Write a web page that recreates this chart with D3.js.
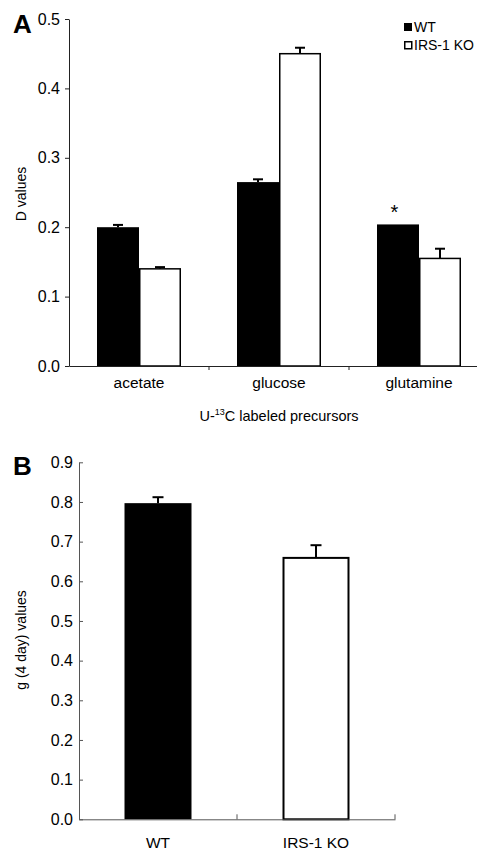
<!DOCTYPE html>
<html>
<head>
<meta charset="utf-8">
<script src="https://cdn.jsdelivr.net/npm/d3@7"></script>
<style>
  html, body { margin: 0; padding: 0; background: #fff; }
  svg { display: block; font-family: "Liberation Sans", Arial, sans-serif; }
</style>
</head>
<body>
<svg id="chart" width="477" height="850"></svg>
<script>
// ---- Panel A data ----
const categoriesA = ["acetate", "glucose", "glutamine"];
const seriesA = ["WT", "IRS-1 KO"];
const wtValuesA = [0.200, 0.265, 0.204];
const koValuesA = [0.140, 0.450, 0.155];
const wtErrA = [0.0033, 0.004, 0];
const koErrA = [0.0025, 0.0086, 0.014];
const yTicksA = [0.0, 0.1, 0.2, 0.3, 0.4, 0.5];
const starsA = [{ category: "glutamine", series: "WT", label: "*" }];

// ---- Panel B data ----
const groupsB = ["WT", "IRS-1 KO"];
const valuesB = [0.797, 0.659];
const errB = [0.015, 0.032];
const yTicksB = [0.0, 0.1, 0.2, 0.3, 0.4, 0.5, 0.6, 0.7, 0.8, 0.9];

const svg = d3.select("#chart");
const fmt = d3.format(".1f");
const FONT = "Liberation Sans, Arial, sans-serif";

// ================= Panel A =================
const A = { left: 69, right: 489, top: 19, bottom: 366 };
const xA = d3.scaleBand().domain(categoriesA).range([A.left, A.right]).padding(0);
const xSubA = d3.scaleBand().domain(seriesA).range([0, xA.bandwidth()]).paddingInner(0).paddingOuter(2 / 3);
const yA = d3.scaleLinear().domain([0, 0.5]).range([A.bottom, A.top]);

const rowsA = categoriesA.map((c, i) => ({
  category: c,
  bars: [
    { series: "WT", value: wtValuesA[i], err: wtErrA[i] },
    { series: "IRS-1 KO", value: koValuesA[i], err: koErrA[i] }
  ]
}));

const gA = svg.append("g");

const groupA = gA.selectAll("g.cat").data(rowsA).join("g")
  .attr("class", "cat")
  .attr("transform", d => `translate(${xA(d.category)},0)`);

groupA.selectAll("g.err").data(d => d.bars.filter(b => b.err > 0)).join("g")
  .attr("class", "err")
  .each(function (b) {
    const cx = xSubA(b.series) + xSubA.bandwidth() / 2;
    const g = d3.select(this);
    g.append("line")
      .attr("x1", cx).attr("x2", cx)
      .attr("y1", yA(b.value)).attr("y2", yA(b.value + b.err))
      .attr("stroke", "#000").attr("stroke-width", 2);
    g.append("line")
      .attr("x1", cx - 5).attr("x2", cx + 5)
      .attr("y1", yA(b.value + b.err)).attr("y2", yA(b.value + b.err))
      .attr("stroke", "#000").attr("stroke-width", 2);
  });

groupA.selectAll("rect").data(d => d.bars).join("rect")
  .attr("x", b => xSubA(b.series) + (b.series === "WT" ? 0 : 0.75))
  .attr("y", b => yA(b.value))
  .attr("width", b => xSubA.bandwidth() - (b.series === "WT" ? 0 : 1.5))
  .attr("height", b => yA(0) - yA(b.value))
  .attr("fill", b => b.series === "WT" ? "#000" : "#fff")
  .attr("stroke", "#000")
  .attr("stroke-width", b => b.series === "WT" ? 0 : 1.5);

gA.selectAll("text.star").data(starsA).join("text")
  .attr("class", "star")
  .attr("x", d => xA(d.category) + xSubA(d.series) + xSubA.bandwidth() / 2 - 3.5)
  .attr("y", d => {
    const i = categoriesA.indexOf(d.category);
    return yA(d.series === "WT" ? wtValuesA[i] : koValuesA[i]) - 5;
  })
  .attr("text-anchor", "middle")
  .attr("font-size", 20)
  .text(d => d.label);

const yAxisA = gA.append("g")
  .attr("transform", `translate(${A.left},0)`)
  .call(d3.axisLeft(yA).tickValues(yTicksA).tickFormat(fmt).tickSize(4).tickSizeOuter(0).tickPadding(5));
yAxisA.selectAll("text").attr("font-size", 16).attr("fill", "#000").attr("font-family", FONT);
yAxisA.selectAll("line, path").attr("stroke", "#222");

const xAxisA = gA.append("g")
  .attr("transform", `translate(0,${A.bottom})`)
  .call(d3.axisBottom(xA).tickSize(0).tickSizeOuter(0).tickPadding(11));
xAxisA.selectAll("text").attr("font-size", 15.5).attr("fill", "#000").attr("font-family", FONT);
xAxisA.select("path").attr("stroke", "#222");
xAxisA.selectAll("line.bound").data(categoriesA.slice(0, -1)).join("line")
  .attr("class", "bound")
  .attr("x1", d => xA(d) + xA.bandwidth()).attr("x2", d => xA(d) + xA.bandwidth())
  .attr("y1", 0).attr("y2", 4)
  .attr("stroke", "#222");

gA.append("text")
  .attr("transform", `translate(26,194) rotate(-90)`)
  .attr("text-anchor", "middle")
  .attr("font-size", 14)
  .text("D values");

const xt = gA.append("text")
  .attr("x", 279).attr("y", 421)
  .attr("text-anchor", "middle")
  .attr("font-size", 14.5);
xt.append("tspan").text("U-");
xt.append("tspan").attr("font-size", 9).attr("dy", -6).text("13");
xt.append("tspan").attr("dy", 6).text("C labeled precursors");

gA.append("text")
  .attr("x", 13).attr("y", 33)
  .attr("font-size", 26).attr("font-weight", "bold")
  .text("A");

const legend = gA.append("g").attr("transform", "translate(404,23)");
legend.selectAll("g").data(seriesA).join("g")
  .attr("transform", (d, i) => `translate(0,${i * 18})`)
  .each(function (d) {
    const g = d3.select(this);
    g.append("rect")
      .attr("x", d === "WT" ? 0 : 0.75).attr("y", d === "WT" ? 0 : 0.75)
      .attr("width", d === "WT" ? 8 : 7).attr("height", d === "WT" ? 8 : 7)
      .attr("fill", d === "WT" ? "#000" : "#fff")
      .attr("stroke", "#000").attr("stroke-width", d === "WT" ? 0 : 1.5);
    g.append("text")
      .attr("x", 10).attr("y", 8.5)
      .attr("font-size", 14)
      .text(d);
  });

// ================= Panel B =================
const B = { left: 79, right: 395, top: 462.3, bottom: 819.3 };
const xB = d3.scaleBand().domain(groupsB).range([B.left, B.right]).padding(0);
const yB = d3.scaleLinear().domain([0, 0.9]).range([B.bottom, B.top]);
const barWB = xB.bandwidth() * 0.424;
const rowsB = groupsB.map((g, i) => ({ group: g, value: valuesB[i], err: errB[i] }));

const gB = svg.append("g");

gB.selectAll("g.err").data(rowsB).join("g")
  .attr("class", "err")
  .each(function (d) {
    const cx = xB(d.group) + xB.bandwidth() / 2;
    const g = d3.select(this);
    g.append("line")
      .attr("x1", cx).attr("x2", cx)
      .attr("y1", yB(d.value)).attr("y2", yB(d.value + d.err))
      .attr("stroke", "#000").attr("stroke-width", 2);
    g.append("line")
      .attr("x1", cx - 5.5).attr("x2", cx + 5.5)
      .attr("y1", yB(d.value + d.err)).attr("y2", yB(d.value + d.err))
      .attr("stroke", "#000").attr("stroke-width", 2);
  });

gB.selectAll("rect").data(rowsB).join("rect")
  .attr("x", d => xB(d.group) + (xB.bandwidth() - barWB) / 2 + (d.group === "WT" ? 0 : 1))
  .attr("y", d => yB(d.value))
  .attr("width", d => barWB - (d.group === "WT" ? 0 : 2))
  .attr("height", d => yB(0) - yB(d.value))
  .attr("fill", d => d.group === "WT" ? "#000" : "#fff")
  .attr("stroke", "#000")
  .attr("stroke-width", d => d.group === "WT" ? 0 : 2);

const yAxisB = gB.append("g")
  .attr("transform", `translate(${B.left},0)`)
  .call(d3.axisLeft(yB).tickValues(yTicksB).tickFormat(fmt).tickSize(-4).tickSizeOuter(0).tickPadding(6));
yAxisB.selectAll("text").attr("font-size", 16).attr("fill", "#000").attr("font-family", FONT);
yAxisB.selectAll("line, path").attr("stroke", "#555");

const xAxisB = gB.append("g")
  .attr("transform", `translate(0,${B.bottom})`)
  .call(d3.axisBottom(xB).tickSize(0).tickSizeOuter(0).tickPadding(17.5));
xAxisB.selectAll("text").attr("font-size", 15.5).attr("fill", "#000").attr("font-family", FONT);
xAxisB.select("path").attr("stroke", "#555");
xAxisB.selectAll("line.bound").data(groupsB).join("line")
  .attr("class", "bound")
  .attr("x1", d => xB(d) + xB.bandwidth()).attr("x2", d => xB(d) + xB.bandwidth())
  .attr("y1", 0).attr("y2", -5)
  .attr("stroke", "#555");

gB.append("text")
  .attr("transform", `translate(26,640) rotate(-90)`)
  .attr("text-anchor", "middle")
  .attr("font-size", 14)
  .text("g (4 day) values");

gB.append("text")
  .attr("x", 13).attr("y", 475)
  .attr("font-size", 26).attr("font-weight", "bold")
  .text("B");
</script>
</body>
</html>
